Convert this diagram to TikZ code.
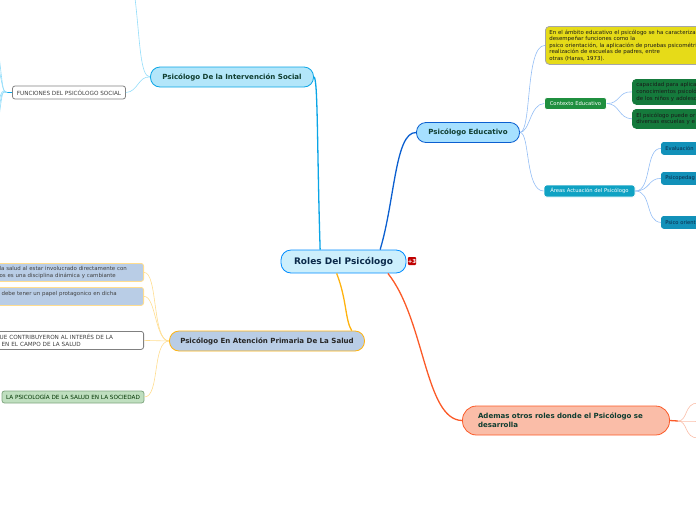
\documentclass[tikz,border=0pt]{standalone}
\usepackage{xcolor}
\usepackage{fontspec}
\setmainfont{DejaVu Sans}
\definecolor{inktext}{HTML}{0B2A4A}
\definecolor{greentext}{HTML}{0F3D30}
\definecolor{socialline}{HTML}{0AA5E6}
\definecolor{educline}{HTML}{0B5FD0}
\definecolor{saludline}{HTML}{FFB30F}
\definecolor{otherline}{HTML}{FB5A28}
\definecolor{socialthin}{HTML}{93DDFA}
\definecolor{educthin}{HTML}{93BDF5}
\definecolor{saludthin}{HTML}{FFDD8F}
\definecolor{otherthin}{HTML}{FABDA8}
\definecolor{saludfill}{HTML}{B9CDE6}
\definecolor{teal}{HTML}{1291B9}
\definecolor{forest}{HTML}{157A3C}
\definecolor{lawn}{HTML}{1F8F3F}
\definecolor{straw}{HTML}{E6DB18}
\begin{document}
\begin{tikzpicture}[x=1pt, y=-1pt,
    topic/.style={draw, rounded corners=9.5pt, line width=0.8pt, font=\bfseries\fontsize{7.05}{9}\selectfont, text=greentext, inner sep=0pt, minimum height=20pt},
    leaf/.style={draw, rounded corners=2.5pt, line width=0.8pt, font=\fontsize{5.45}{6.7}\selectfont, text=black!75, inner sep=0pt, align=left},
    caps/.style={font=\fontsize{5.7}{7}\selectfont},
    pale/.style={text=white, draw=white, font=\fontsize{5.25}{7}\selectfont, minimum height=12pt},
    big/.style={line width=1.3pt},
    thin/.style={line width=0.6pt}
]
    \useasboundingbox (0,0) rectangle (696,520);
    \clip (0,0) rectangle (696,520);

    % Root
    \node[topic, fill=cyan!20!white, draw=blue!45!cyan, rounded corners=10pt, minimum width=125pt, minimum height=23pt, text=inktext, font=\bfseries\fontsize{9}{11}\selectfont] (root) at (343.5, 261.5) {Roles Del Psicólogo};
    \node[draw=none, fill=red!75!black, text=white, rounded corners=1pt, inner sep=0pt, minimum width=8pt, minimum height=8pt, font=\bfseries\fontsize{5.5}{6}\selectfont] (badge) at (412, 261) {+3};

    % Topics
    \node[topic, fill=cyan!30!white, draw=socialline, minimum width=163pt] (social) at (232, 77) {Psicólogo De la Intervención Social};
    \node[topic, fill=blue!35!cyan!35!white, draw=educline, minimum width=103pt] (educ) at (468, 132.5) {Psicólogo Educativo};
    \node[topic, fill=saludfill, draw=saludline, minimum width=195pt, text=black!85] (salud) at (267, 341) {Psicólogo En Atención Primaria De La Salud};
    \node[topic, fill=otherthin, draw=otherline, minimum width=207pt, minimum height=29pt, rounded corners=14pt, align=left, text width=176pt] (otros) at (566, 420.5) {Ademas otros roles donde el Psicólogo se\\desarrolla};

    % Social
    \node[leaf, caps, fill=white, draw=black!50, minimum width=113pt, minimum height=13pt] (funciones) at (69, 92.5) {FUNCIONES DEL PSICÓLOGO SOCIAL};

    % Educativo
    \node[leaf, fill=straw, draw=black!35, rounded corners=4pt, anchor=north west, minimum width=170pt, minimum height=38pt, text width=162pt, inner xsep=4pt, text=black!90, font=\fontsize{5.45}{6.5}\selectfont] (ambito) at (545, 26) {En el  ámbito educativo el psicólogo se ha caracteriza\\desempeñar funciones como la\\psico orientación, la aplicación de pruebas psicométri\\realización de escuelas de padres, entre\\otras (Haras, 1973).};
    \node[leaf, pale, fill=lawn, minimum width=62pt] (contexto) at (575.5, 103.5) {Contexto Educativo};
    \node[leaf, fill=forest, draw=forest, rounded corners=4pt, anchor=north west, minimum width=80pt, minimum height=25pt, text width=76pt, inner xsep=4pt, text=black!90] (capacidad) at (632, 79) {capacidad para aplica\\conocimientos psicoló\\de los niños y adolesc};
    \node[leaf, fill=forest, draw=forest, rounded corners=4pt, anchor=north west, minimum width=80pt, minimum height=19pt, text width=76pt, inner xsep=4pt, text=black!90] (puede) at (632, 109) {El psicólogo puede or\\diversas escuelas y e};
    \node[leaf, pale, fill=teal!85!cyan, minimum width=91pt] (areas) at (589.5, 191) {Áreas Actuación del Psicólogo};
    \node[leaf, fill=teal, draw=teal, anchor=north west, minimum width=60pt, minimum height=12pt, text width=56pt, inner xsep=4pt, text=inktext, font=\fontsize{5.2}{7}\selectfont] (evaluacion) at (661, 142) {Evaluación};
    \node[leaf, fill=teal, draw=teal, anchor=north west, minimum width=60pt, minimum height=12pt, text width=56pt, inner xsep=4pt, text=inktext, font=\fontsize{5.2}{7}\selectfont] (psicopeda) at (661, 172) {Psicopedag};
    \node[leaf, fill=teal, draw=teal, anchor=north west, minimum width=60pt, minimum height=12pt, text width=56pt, inner xsep=4pt, text=inktext, font=\fontsize{5.2}{7}\selectfont] (psicoori) at (661, 216) {Psico orient};

    % Salud
    \node[leaf, fill=saludfill, draw=saludthin, anchor=north east, minimum width=156pt, minimum height=18pt, text width=156pt] (involucrado) at (144, 263) {\hspace*{12pt}la salud al estar involucrado directamente con\\\hspace*{12pt}os es una disciplina dinámica y cambiante};
    \node[leaf, fill=saludfill, draw=saludthin, anchor=north east, minimum width=156pt, minimum height=18pt, text width=156pt] (papel) at (144, 287) {\hspace*{14pt}debe tener un papel protagonico en dicha\\~};
    \node[leaf, caps, fill=white, draw=black!50, anchor=north east, minimum width=156pt, minimum height=18pt, text width=156pt] (interes) at (144, 331) {\hspace*{12pt}UE CONTRIBUYERON AL INTERÉS DE LA\\\hspace*{14pt}EN EL CAMPO DE LA SALUD};
    \node[leaf, caps, fill=green!50!black!25!white, draw=green!30!black!50!white, text=green!20!black, minimum width=142pt, minimum height=12pt] (sociedad) at (73, 397) {LA PSICOLOGÍA DE LA SALUD EN LA SOCIEDAD};

    % Free ends
    \coordinate (socialup) at (135, -2);
    \coordinate (fanhub) at (7, 92.5);
    \coordinate (fanA) at (-3, 40);
    \coordinate (fanB) at (-3, 60);
    \coordinate (fanC) at (-3, 108);
    \coordinate (fanD) at (-3, 120);
    \coordinate (fanE) at (-3, 134);
    \coordinate (otroshub) at (678, 421);
    \coordinate (otrosA) at (698, 403);
    \coordinate (otrosB) at (698, 421);
    \coordinate (otrosC) at (698, 438);

    % Main connections
    \draw[big, socialline] (social.east) .. controls (318, 77) and (317, 150) .. (root.153);
    \draw[big, educline] (educ.west) .. controls (395, 132) and (395, 200) .. (root.18);
    \draw[big, saludline] (root.-120) .. controls (347, 300) and (345, 320) .. (salud.7);
    \draw[big, otherline] (otros.west) .. controls (425, 420) and (425, 320) .. (root.-15);

    % Social branches
    \draw[thin, socialthin] (social.west) .. controls (140, 77) and (140, 40) .. (socialup);
    \draw[thin, socialthin] (social.west) .. controls (138, 76) and (138, 92) .. (funciones.east);
    \draw[thin, socialline] (funciones.west) -- (fanhub);
    \foreach \fanend in {fanA, fanB, fanC, fanD, fanE}
        \draw[thin, socialthin] (fanhub) .. controls (2, 92.5) and (3, 85) .. (\fanend);

    % Educativo branches
    \draw[thin, educthin] (educ.east) .. controls (532, 132) and (525, 45) .. (ambito.west);
    \draw[thin, educthin] (educ.east) .. controls (530, 132) and (530, 104) .. (contexto.west);
    \draw[thin, educthin] (educ.east) .. controls (530, 132) and (525, 191) .. (areas.west);
    \draw[thin, educthin] (contexto.east) .. controls (620, 104) and (618, 91) .. (capacidad.west);
    \draw[thin, educthin] (contexto.east) .. controls (620, 104) and (618, 118) .. (puede.west);
    \draw[thin, educthin] (areas.east) .. controls (652, 191) and (645, 148) .. (evaluacion.west);
    \draw[thin, educthin] (areas.east) .. controls (650, 191) and (648, 178) .. (psicopeda.west);
    \draw[thin, educthin] (areas.east) .. controls (652, 191) and (645, 222) .. (psicoori.west);

    % Salud branches
    \draw[thin, saludthin] (salud.west) .. controls (152, 341) and (158, 272) .. (involucrado.east);
    \draw[thin, saludthin] (salud.west) .. controls (155, 341) and (156, 296) .. (papel.east);
    \draw[thin, saludthin] (salud.west) -- (interes.east);
    \draw[thin, saludthin] (salud.west) .. controls (152, 341) and (160, 397) .. (sociedad.east);

    % Otros branches
    \draw[big, otherline] (otros.east) -- (otroshub);
    \foreach \otrosend in {otrosA, otrosB, otrosC}
        \draw[thin, otherthin] (otroshub) .. controls (688, 421) and (684, 0 |- \otrosend) .. (\otrosend);
\end{tikzpicture}
\end{document}
